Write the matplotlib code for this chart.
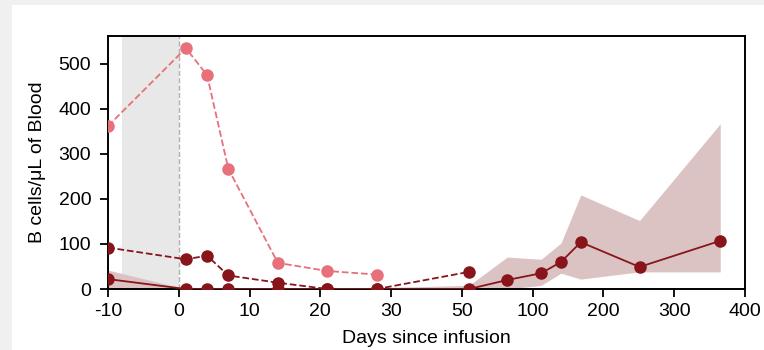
import numpy as np
import matplotlib
matplotlib.use('Agg')
import matplotlib.pyplot as plt
from matplotlib.patches import Rectangle

plt.rcParams['font.family'] = ['Liberation Sans', 'DejaVu Sans']

# piecewise x axis: equally spaced ticks
tick_vals = [-10, 0, 10, 20, 30, 50, 100, 200, 300, 400]
tick_pos = np.arange(len(tick_vals))

# pink dashed series
pink_x = [-10, 1, 4, 7, 14, 21, 28]
pink_y = [362, 535, 475, 267, 58, 40, 32]

# dark dashed series
dark_dash_x = [-10, 1, 4, 7, 14, 21, 28, 55]
dark_dash_y = [92, 66, 74, 30, 14, 0, 0, 38]

# dark solid series (mean) with band
solid_x = [-10, 1, 4, 7, 14, 21, 28, 55, 82, 112, 140, 168, 251, 365]
solid_y = [22, 0, 0, 0, 0, 0, 0, 0, 20, 35, 60, 104, 49, 107]
band_lo = [2, 0, 0, 0, 0, 0, 0, 0, 0, 8, 35, 22, 38, 38]
band_hi = [42, 0, 1, 2, 2, 2, 3, 8, 71, 66, 102, 209, 152, 367]

pink = '#e8707a'
dark = '#87151b'
band = '#dcc3c3'


def fwd(x):
    return np.interp(x, tick_vals, tick_pos, left=-1e9, right=1e9)


def inv(p):
    return np.interp(p, tick_pos, tick_vals)


fig = plt.figure(figsize=(7.64, 3.5), dpi=100)
fig.patch.set_facecolor('#f0f0f0')
fig.patches.append(Rectangle((12 / 764, 0), 1, 1 - 5 / 350, transform=fig.transFigure,
                             facecolor='white', edgecolor='none', zorder=-10))
ax = fig.add_axes([108 / 764, 61 / 350, (745 - 108) / 764, (289 - 36) / 350])
ax.set_xscale('function', functions=(fwd, inv))

# shaded pre-infusion period
ax.axvspan(-8, 0, color='#e8e8e8', zorder=0, lw=0)
ax.axvline(0, color='#b0b0b0', ls='--', lw=1, zorder=1)

ax.fill_between(solid_x, band_lo, band_hi, color=band, lw=0, zorder=2)
ax.plot(solid_x, solid_y, '-o', color=dark, lw=1.3, ms=8, zorder=4)
ax.plot(dark_dash_x, dark_dash_y, '--o', color=dark, lw=1.3, ms=8, zorder=4)
ax.plot(pink_x, pink_y, '--o', color=pink, lw=1.3, ms=8, zorder=3)

ax.set_xlim(-10, 400)
ax.set_ylim(0, 562)
ax.set_xticks(tick_vals)
ax.set_xticklabels([str(v) for v in tick_vals])
ax.set_yticks([0, 100, 200, 300, 400, 500])
ax.minorticks_off()
ax.tick_params(labelsize=14, length=5.5, width=1.3, color='black')
ax.tick_params(axis='x', pad=4.5)
ax.tick_params(axis='y', pad=6.5)
for s in ax.spines.values():
    s.set_linewidth(1.4)
ax.set_xlabel('Days since infusion', fontsize=14, labelpad=7)
ax.set_ylabel('B cells/μL of Blood', fontsize=14, labelpad=9)

fig.savefig('out.png', dpi=100, facecolor=fig.get_facecolor())
